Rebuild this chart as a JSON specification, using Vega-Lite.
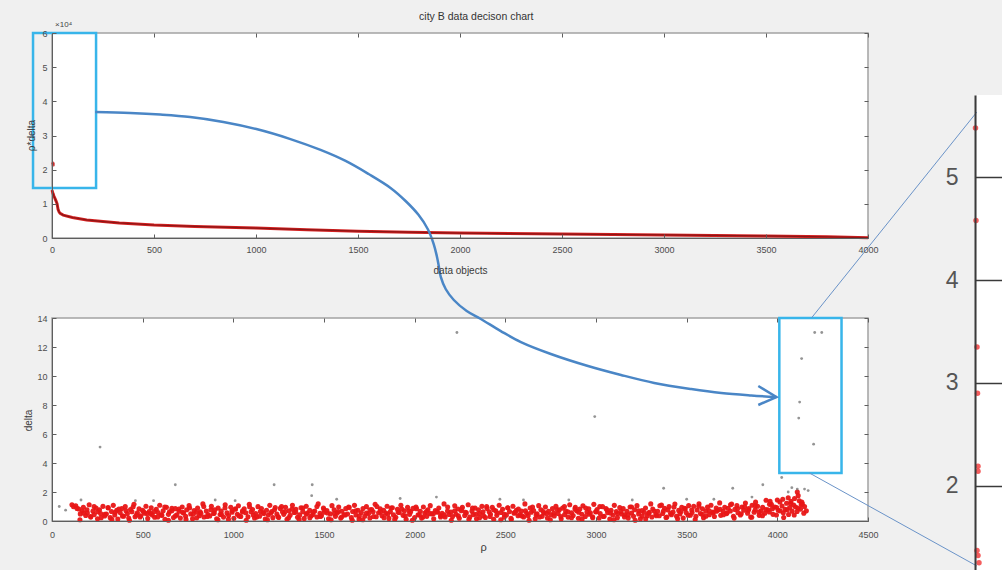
{
"$schema":"https://vega.github.io/schema/vega-lite/v6.json",
"width":1002,"height":570,"autosize":{"type":"none"},"padding":0,
"background":"#f0f0f0",
"config":{"view":{"stroke":null},
 "axis":{"labelFont":"Liberation Sans","labelFontSize":9,"labelColor":"#4d4d4d","titleFont":"Liberation Sans","titleFontSize":10,"titleColor":"#3a3a3a","titleFontWeight":"normal","domainColor":"#5e5e5e","tickColor":"#5e5e5e","grid":false,"labelFlush":false,"labelOverlap":false,"format":"d"}},
"resolve":{"scale":{"x":"independent","y":"independent"},"axis":{"x":"independent","y":"independent"}},
"datasets":{
"curve":[{"x":0,"v":14000},{"x":5,"v":13000},{"x":10,"v":12200},{"x":15,"v":11500},{"x":20,"v":10800},{"x":25,"v":10000},{"x":30,"v":8300},{"x":35,"v":7600},{"x":40,"v":7200},{"x":55,"v":6700},{"x":100,"v":6000},{"x":170,"v":5300},{"x":250,"v":4800},{"x":330,"v":4400},{"x":500,"v":3800},{"x":700,"v":3400},{"x":1000,"v":2900},{"x":1250,"v":2450},{"x":1500,"v":2000},{"x":1750,"v":1700},{"x":2000,"v":1450},{"x":2500,"v":1150},{"x":3000,"v":900},{"x":3500,"v":600},{"x":3800,"v":350},{"x":4000,"v":100}],
"tophigh":[{"x":5,"v":21900},{"x":6,"v":21400}],
"band":[
{"p":110,"d":1.12},{"p":119,"d":0.98},{"p":131,"d":1.05},{"p":138,"d":0.87},{"p":148,"d":0.83},{"p":156,"d":0.49},{"p":167,"d":0.71},{"p":173,"d":0.95},{"p":186,"d":0.38},{"p":195,"d":0.56},{"p":205,"d":1.12},{"p":214,"d":0.27},{"p":226,"d":0.68},{"p":233,"d":0.44},{"p":243,"d":0.89},{"p":251,"d":0.15},{"p":262,"d":0.77},{"p":268,"d":0.52},{"p":281,"d":1.01},{"p":290,"d":0.35},
{"p":300,"d":0.48},{"p":309,"d":0.92},{"p":321,"d":0.23},{"p":328,"d":0.66},{"p":338,"d":1.08},{"p":346,"d":0.41},{"p":357,"d":0.74},{"p":363,"d":0.13},{"p":376,"d":0.58},{"p":385,"d":0.86},{"p":395,"d":0.33},{"p":404,"d":0.99},{"p":416,"d":0.51},{"p":423,"d":0.21},{"p":433,"d":0.79},{"p":441,"d":0.64},{"p":452,"d":1.15},{"p":458,"d":0.29},{"p":471,"d":0.57},{"p":480,"d":0.84},
{"p":490,"d":0.36},{"p":499,"d":0.73},{"p":511,"d":0.54},{"p":518,"d":1.02},{"p":528,"d":0.18},{"p":536,"d":0.65},{"p":547,"d":0.91},{"p":553,"d":0.42},{"p":566,"d":0.26},{"p":575,"d":0.81},{"p":585,"d":0.59},{"p":594,"d":1.09},{"p":606,"d":0.39},{"p":613,"d":0.7},{"p":623,"d":0.12},{"p":631,"d":0.94},{"p":642,"d":0.46},{"p":648,"d":0.63},{"p":661,"d":0.87},{"p":670,"d":0.24},
{"p":680,"d":0.85},{"p":689,"d":0.43},{"p":701,"d":0.67},{"p":708,"d":0.2},{"p":718,"d":0.97},{"p":726,"d":0.55},{"p":737,"d":0.32},{"p":743,"d":0.78},{"p":756,"d":1.06},{"p":765,"d":0.49},{"p":775,"d":0.16},{"p":784,"d":0.72},{"p":796,"d":0.6},{"p":803,"d":0.9},{"p":813,"d":0.37},{"p":821,"d":0.53},{"p":832,"d":1.18},{"p":838,"d":0.28},{"p":851,"d":0.69},{"p":860,"d":0.45},
{"p":870,"d":0.35},{"p":879,"d":1.01},{"p":891,"d":0.52},{"p":898,"d":0.77},{"p":908,"d":0.15},{"p":916,"d":0.89},{"p":927,"d":0.44},{"p":933,"d":0.68},{"p":946,"d":0.27},{"p":955,"d":1.12},{"p":965,"d":0.56},{"p":974,"d":0.38},{"p":986,"d":0.95},{"p":993,"d":0.71},{"p":1003,"d":0.19},{"p":1011,"d":0.83},{"p":1022,"d":0.47},{"p":1028,"d":1.05},{"p":1041,"d":0.31},{"p":1050,"d":0.62},
{"p":1060,"d":0.84},{"p":1069,"d":0.57},{"p":1081,"d":0.29},{"p":1088,"d":1.15},{"p":1098,"d":0.64},{"p":1106,"d":0.79},{"p":1117,"d":0.21},{"p":1123,"d":0.51},{"p":1136,"d":0.99},{"p":1145,"d":0.33},{"p":1155,"d":0.86},{"p":1164,"d":0.58},{"p":1176,"d":0.13},{"p":1183,"d":0.74},{"p":1193,"d":0.41},{"p":1201,"d":1.08},{"p":1212,"d":0.66},{"p":1218,"d":0.23},{"p":1231,"d":0.92},{"p":1240,"d":0.48},
{"p":1250,"d":0.24},{"p":1259,"d":0.87},{"p":1271,"d":0.63},{"p":1278,"d":0.46},{"p":1288,"d":0.94},{"p":1296,"d":0.12},{"p":1307,"d":0.7},{"p":1313,"d":0.39},{"p":1326,"d":1.09},{"p":1335,"d":0.59},{"p":1345,"d":0.81},{"p":1354,"d":0.26},{"p":1366,"d":0.42},{"p":1373,"d":0.91},{"p":1383,"d":0.65},{"p":1391,"d":0.18},{"p":1402,"d":1.02},{"p":1408,"d":0.54},{"p":1421,"d":0.73},{"p":1430,"d":0.36},
{"p":1440,"d":0.45},{"p":1449,"d":0.69},{"p":1461,"d":0.28},{"p":1468,"d":1.18},{"p":1478,"d":0.53},{"p":1486,"d":0.37},{"p":1497,"d":0.9},{"p":1503,"d":0.6},{"p":1516,"d":0.72},{"p":1525,"d":0.16},{"p":1535,"d":0.49},{"p":1544,"d":1.06},{"p":1556,"d":0.78},{"p":1563,"d":0.32},{"p":1573,"d":0.55},{"p":1581,"d":0.97},{"p":1592,"d":0.2},{"p":1598,"d":0.67},{"p":1611,"d":0.43},{"p":1620,"d":0.85},
{"p":1630,"d":0.48},{"p":1639,"d":0.92},{"p":1651,"d":0.23},{"p":1658,"d":0.66},{"p":1668,"d":1.08},{"p":1676,"d":0.41},{"p":1687,"d":0.74},{"p":1693,"d":0.13},{"p":1706,"d":0.58},{"p":1715,"d":0.86},{"p":1725,"d":0.33},{"p":1734,"d":0.99},{"p":1746,"d":0.51},{"p":1753,"d":0.21},{"p":1763,"d":0.79},{"p":1771,"d":0.64},{"p":1782,"d":1.15},{"p":1788,"d":0.29},{"p":1801,"d":0.57},{"p":1810,"d":0.84},
{"p":1820,"d":0.36},{"p":1829,"d":0.73},{"p":1841,"d":0.54},{"p":1848,"d":1.02},{"p":1858,"d":0.18},{"p":1866,"d":0.65},{"p":1877,"d":0.91},{"p":1883,"d":0.42},{"p":1896,"d":0.26},{"p":1905,"d":0.81},{"p":1915,"d":0.59},{"p":1924,"d":1.09},{"p":1936,"d":0.39},{"p":1943,"d":0.7},{"p":1953,"d":0.12},{"p":1961,"d":0.94},{"p":1972,"d":0.46},{"p":1978,"d":0.63},{"p":1991,"d":0.87},{"p":2000,"d":0.24},
{"p":2010,"d":0.85},{"p":2019,"d":0.43},{"p":2031,"d":0.67},{"p":2038,"d":0.2},{"p":2048,"d":0.97},{"p":2056,"d":0.55},{"p":2067,"d":0.32},{"p":2073,"d":0.78},{"p":2086,"d":1.06},{"p":2095,"d":0.49},{"p":2105,"d":0.16},{"p":2114,"d":0.72},{"p":2126,"d":0.6},{"p":2133,"d":0.9},{"p":2143,"d":0.37},{"p":2151,"d":0.53},{"p":2162,"d":1.18},{"p":2168,"d":0.28},{"p":2181,"d":0.69},{"p":2190,"d":0.45},
{"p":2200,"d":0.62},{"p":2209,"d":0.31},{"p":2221,"d":1.05},{"p":2228,"d":0.47},{"p":2238,"d":0.83},{"p":2246,"d":0.19},{"p":2257,"d":0.71},{"p":2263,"d":0.95},{"p":2276,"d":0.38},{"p":2285,"d":0.56},{"p":2295,"d":1.12},{"p":2304,"d":0.27},{"p":2316,"d":0.68},{"p":2323,"d":0.44},{"p":2333,"d":0.89},{"p":2341,"d":0.15},{"p":2352,"d":0.77},{"p":2358,"d":0.52},{"p":2371,"d":1.01},{"p":2380,"d":0.35},
{"p":2390,"d":0.24},{"p":2399,"d":0.87},{"p":2411,"d":0.63},{"p":2418,"d":0.46},{"p":2428,"d":0.94},{"p":2436,"d":0.12},{"p":2447,"d":0.7},{"p":2453,"d":0.39},{"p":2466,"d":1.09},{"p":2475,"d":0.59},{"p":2485,"d":0.81},{"p":2494,"d":0.26},{"p":2506,"d":0.42},{"p":2513,"d":0.91},{"p":2523,"d":0.65},{"p":2531,"d":0.18},{"p":2542,"d":1.02},{"p":2548,"d":0.54},{"p":2561,"d":0.73},{"p":2570,"d":0.36},
{"p":2580,"d":0.45},{"p":2589,"d":0.69},{"p":2601,"d":0.28},{"p":2608,"d":1.18},{"p":2618,"d":0.53},{"p":2626,"d":0.37},{"p":2637,"d":0.9},{"p":2643,"d":0.6},{"p":2656,"d":0.72},{"p":2665,"d":0.16},{"p":2675,"d":0.49},{"p":2684,"d":1.06},{"p":2696,"d":0.78},{"p":2703,"d":0.32},{"p":2713,"d":0.55},{"p":2721,"d":0.97},{"p":2732,"d":0.2},{"p":2738,"d":0.67},{"p":2751,"d":0.43},{"p":2760,"d":0.85},
{"p":2770,"d":0.35},{"p":2779,"d":1.01},{"p":2791,"d":0.52},{"p":2798,"d":0.77},{"p":2808,"d":0.15},{"p":2816,"d":0.89},{"p":2827,"d":0.44},{"p":2833,"d":0.68},{"p":2846,"d":0.27},{"p":2855,"d":1.12},{"p":2865,"d":0.56},{"p":2874,"d":0.38},{"p":2886,"d":0.95},{"p":2893,"d":0.71},{"p":2903,"d":0.19},{"p":2911,"d":0.83},{"p":2922,"d":0.47},{"p":2928,"d":1.05},{"p":2941,"d":0.31},{"p":2950,"d":0.62},
{"p":2960,"d":0.84},{"p":2969,"d":0.57},{"p":2981,"d":0.29},{"p":2988,"d":1.15},{"p":2998,"d":0.64},{"p":3006,"d":0.79},{"p":3017,"d":0.21},{"p":3023,"d":0.51},{"p":3036,"d":0.99},{"p":3045,"d":0.33},{"p":3055,"d":0.86},{"p":3064,"d":0.58},{"p":3076,"d":0.13},{"p":3083,"d":0.74},{"p":3093,"d":0.41},{"p":3101,"d":1.08},{"p":3112,"d":0.66},{"p":3118,"d":0.23},{"p":3131,"d":0.92},{"p":3140,"d":0.48},
{"p":3150,"d":0.85},{"p":3159,"d":0.43},{"p":3171,"d":0.67},{"p":3178,"d":0.2},{"p":3188,"d":0.97},{"p":3196,"d":0.55},{"p":3207,"d":0.32},{"p":3213,"d":0.78},{"p":3226,"d":1.06},{"p":3235,"d":0.49},{"p":3245,"d":0.16},{"p":3254,"d":0.72},{"p":3266,"d":0.6},{"p":3273,"d":0.9},{"p":3283,"d":0.37},{"p":3291,"d":0.53},{"p":3302,"d":1.18},{"p":3308,"d":0.28},{"p":3321,"d":0.69},{"p":3330,"d":0.45},
{"p":3340,"d":0.67},{"p":3349,"d":0.36},{"p":3361,"d":1.1},{"p":3368,"d":0.52},{"p":3378,"d":0.88},{"p":3386,"d":0.24},{"p":3397,"d":0.76},{"p":3403,"d":1.0},{"p":3416,"d":0.43},{"p":3425,"d":0.61},{"p":3435,"d":1.17},{"p":3444,"d":0.32},{"p":3456,"d":0.73},{"p":3463,"d":0.49},{"p":3473,"d":0.94},{"p":3481,"d":0.2},{"p":3492,"d":0.82},{"p":3498,"d":0.57},{"p":3511,"d":1.06},{"p":3520,"d":0.4},
{"p":3530,"d":0.58},{"p":3539,"d":1.02},{"p":3551,"d":0.33},{"p":3558,"d":0.76},{"p":3568,"d":1.18},{"p":3576,"d":0.51},{"p":3587,"d":0.84},{"p":3593,"d":0.23},{"p":3606,"d":0.68},{"p":3615,"d":0.96},{"p":3625,"d":0.43},{"p":3634,"d":1.09},{"p":3646,"d":0.61},{"p":3653,"d":0.31},{"p":3663,"d":0.89},{"p":3671,"d":0.74},{"p":3682,"d":1.25},{"p":3688,"d":0.39},{"p":3701,"d":0.67},{"p":3710,"d":0.94},
{"p":3720,"d":0.51},{"p":3729,"d":0.88},{"p":3741,"d":0.69},{"p":3748,"d":1.17},{"p":3758,"d":0.33},{"p":3766,"d":0.8},{"p":3777,"d":1.06},{"p":3783,"d":0.57},{"p":3796,"d":0.41},{"p":3805,"d":0.96},{"p":3815,"d":0.74},{"p":3824,"d":1.24},{"p":3836,"d":0.54},{"p":3843,"d":0.85},{"p":3853,"d":0.27},{"p":3861,"d":1.09},{"p":3872,"d":0.61},{"p":3878,"d":0.78},{"p":3891,"d":1.02},{"p":3900,"d":0.39},
{"p":3910,"d":0.7},{"p":3919,"d":0.94},{"p":3931,"d":0.53},{"p":3938,"d":1.43},{"p":3948,"d":0.78},{"p":3956,"d":0.62},{"p":3967,"d":1.15},{"p":3973,"d":0.85},{"p":3986,"d":0.97},{"p":3995,"d":0.41},{"p":4005,"d":0.74},{"p":4014,"d":1.31},{"p":4026,"d":1.03},{"p":4033,"d":0.57},{"p":4043,"d":0.8},{"p":4051,"d":1.22},{"p":4062,"d":0.45},{"p":4068,"d":0.92},{"p":4081,"d":0.68},{"p":4090,"d":1.1},
{"p":4100,"d":0.97},{"p":4109,"d":0.66},{"p":4121,"d":1.4},{"p":4128,"d":0.82},{"p":4138,"d":1.18},{"p":4146,"d":0.54},
{"p":4030,"d":1.5},{"p":4060,"d":1.6},{"p":4075,"d":1.35},{"p":4095,"d":1.55},{"p":4115,"d":1.75},{"p":4135,"d":1.3},{"p":3960,"d":1.35},{"p":3880,"d":1.3},{"p":4000,"d":1.45},{"p":4150,"d":1.0},{"p":4160,"d":0.7},{"p":4110,"d":2.0},
{"p":154,"d":0.09},{"p":174,"d":0.55},{"p":193,"d":0.78},{"p":213,"d":0.31},{"p":232,"d":1.0},{"p":252,"d":0.64},{"p":271,"d":0.22},{"p":291,"d":0.47},{"p":310,"d":0.9},{"p":330,"d":0.11},{"p":349,"d":0.6},{"p":369,"d":0.83},{"p":388,"d":0.35},{"p":408,"d":0.71},{"p":427,"d":0.05},{"p":447,"d":0.97},{"p":466,"d":0.42},{"p":486,"d":0.28},{"p":505,"d":0.66},{"p":525,"d":0.52},
{"p":544,"d":0.52},{"p":564,"d":0.66},{"p":583,"d":0.28},{"p":603,"d":0.42},{"p":622,"d":0.97},{"p":642,"d":0.05},{"p":661,"d":0.71},{"p":681,"d":0.35},{"p":700,"d":0.83},{"p":720,"d":0.6},{"p":739,"d":0.11},{"p":759,"d":0.9},{"p":778,"d":0.47},{"p":798,"d":0.22},{"p":817,"d":0.64},{"p":837,"d":1.0},{"p":856,"d":0.31},{"p":876,"d":0.78},{"p":895,"d":0.55},{"p":915,"d":0.09},
{"p":934,"d":0.47},{"p":954,"d":0.9},{"p":973,"d":0.11},{"p":993,"d":0.6},{"p":1012,"d":0.83},{"p":1032,"d":0.35},{"p":1051,"d":0.71},{"p":1071,"d":0.05},{"p":1090,"d":0.97},{"p":1110,"d":0.42},{"p":1129,"d":0.28},{"p":1149,"d":0.66},{"p":1168,"d":0.52},{"p":1188,"d":0.09},{"p":1207,"d":0.55},{"p":1227,"d":0.78},{"p":1246,"d":0.31},{"p":1266,"d":1.0},{"p":1285,"d":0.64},{"p":1305,"d":0.22},
{"p":1324,"d":0.83},{"p":1344,"d":0.6},{"p":1363,"d":0.11},{"p":1383,"d":0.9},{"p":1402,"d":0.47},{"p":1422,"d":0.22},{"p":1441,"d":0.64},{"p":1461,"d":1.0},{"p":1480,"d":0.31},{"p":1500,"d":0.78},{"p":1519,"d":0.55},{"p":1539,"d":0.09},{"p":1558,"d":0.52},{"p":1578,"d":0.66},{"p":1597,"d":0.28},{"p":1617,"d":0.42},{"p":1636,"d":0.97},{"p":1656,"d":0.05},{"p":1675,"d":0.71},{"p":1695,"d":0.35},
{"p":1714,"d":0.09},{"p":1734,"d":0.55},{"p":1753,"d":0.78},{"p":1773,"d":0.31},{"p":1792,"d":1.0},{"p":1812,"d":0.64},{"p":1831,"d":0.22},{"p":1851,"d":0.47},{"p":1870,"d":0.9},{"p":1890,"d":0.11},{"p":1909,"d":0.6},{"p":1929,"d":0.83},{"p":1948,"d":0.35},{"p":1968,"d":0.71},{"p":1987,"d":0.05},{"p":2007,"d":0.97},{"p":2026,"d":0.42},{"p":2046,"d":0.28},{"p":2065,"d":0.66},{"p":2085,"d":0.52},
{"p":2104,"d":0.52},{"p":2124,"d":0.66},{"p":2143,"d":0.28},{"p":2163,"d":0.42},{"p":2182,"d":0.97},{"p":2202,"d":0.05},{"p":2221,"d":0.71},{"p":2241,"d":0.35},{"p":2260,"d":0.83},{"p":2280,"d":0.6},{"p":2299,"d":0.11},{"p":2319,"d":0.9},{"p":2338,"d":0.47},{"p":2358,"d":0.22},{"p":2377,"d":0.64},{"p":2397,"d":1.0},{"p":2416,"d":0.31},{"p":2436,"d":0.78},{"p":2455,"d":0.55},{"p":2475,"d":0.09},
{"p":2494,"d":0.47},{"p":2514,"d":0.9},{"p":2533,"d":0.11},{"p":2553,"d":0.6},{"p":2572,"d":0.83},{"p":2592,"d":0.35},{"p":2611,"d":0.71},{"p":2631,"d":0.05},{"p":2650,"d":0.97},{"p":2670,"d":0.42},{"p":2689,"d":0.28},{"p":2709,"d":0.66},{"p":2728,"d":0.52},{"p":2748,"d":0.09},{"p":2767,"d":0.55},{"p":2787,"d":0.78},{"p":2806,"d":0.31},{"p":2826,"d":1.0},{"p":2845,"d":0.64},{"p":2865,"d":0.22},
{"p":2884,"d":0.83},{"p":2904,"d":0.6},{"p":2923,"d":0.11},{"p":2943,"d":0.9},{"p":2962,"d":0.47},{"p":2982,"d":0.22},{"p":3001,"d":0.64},{"p":3021,"d":1.0},{"p":3040,"d":0.31},{"p":3060,"d":0.78},{"p":3079,"d":0.55},{"p":3099,"d":0.09},{"p":3118,"d":0.52},{"p":3138,"d":0.66},{"p":3157,"d":0.28},{"p":3177,"d":0.42},{"p":3196,"d":0.97},{"p":3216,"d":0.05},{"p":3235,"d":0.71},{"p":3255,"d":0.35},
{"p":3274,"d":0.14},{"p":3294,"d":0.6},{"p":3313,"d":0.83},{"p":3333,"d":0.36},{"p":3352,"d":1.05},{"p":3372,"d":0.69},{"p":3391,"d":0.27},{"p":3411,"d":0.52},{"p":3430,"d":0.95},{"p":3450,"d":0.16},{"p":3469,"d":0.65},{"p":3489,"d":0.88},{"p":3508,"d":0.4},{"p":3528,"d":0.76},{"p":3547,"d":0.1},{"p":3567,"d":1.02},{"p":3586,"d":0.47},{"p":3606,"d":0.33},{"p":3625,"d":0.71},{"p":3645,"d":0.57},
{"p":3664,"d":0.67},{"p":3684,"d":0.81},{"p":3703,"d":0.43},{"p":3723,"d":0.57},{"p":3742,"d":1.12},{"p":3762,"d":0.2},{"p":3781,"d":0.86},{"p":3801,"d":0.5},{"p":3820,"d":0.98},{"p":3840,"d":0.75},{"p":3859,"d":0.26},{"p":3879,"d":1.05},{"p":3898,"d":0.62},{"p":3918,"d":0.37},{"p":3937,"d":0.79},{"p":3957,"d":1.15},{"p":3976,"d":0.46},{"p":3996,"d":0.93},{"p":4015,"d":0.7},{"p":4035,"d":0.24},
{"p":4054,"d":0.77},{"p":4074,"d":1.2},{"p":4093,"d":0.41},{"p":4113,"d":0.9},{"p":4132,"d":1.13}
],
"outl":[{"p":40,"d":1.0},{"p":75,"d":0.75},{"p":265,"d":5.1},{"p":680,"d":2.5},{"p":1225,"d":2.5},{"p":1435,"d":2.5},{"p":1432,"d":1.75},{"p":2233,"d":13.0},{"p":2993,"d":7.2},{"p":4206,"d":13.0},{"p":4245,"d":13.0},{"p":4134,"d":11.2},{"p":4123,"d":8.2},{"p":4118,"d":7.1},{"p":4200,"d":5.3},{"p":3373,"d":2.26},{"p":3754,"d":2.26},{"p":3920,"d":2.5},{"p":4024,"d":3.0},{"p":160,"d":1.45},{"p":460,"d":1.4},{"p":560,"d":1.4},{"p":900,"d":1.45},{"p":1010,"d":1.4},{"p":1570,"d":1.5},{"p":1920,"d":1.55},{"p":2120,"d":1.65},{"p":2470,"d":1.5},{"p":2600,"d":1.45},{"p":2850,"d":1.45},{"p":3200,"d":1.45},{"p":3500,"d":1.5},{"p":3650,"d":1.5},{"p":3860,"d":1.65},{"p":4080,"d":2.3},{"p":4110,"d":2.2},{"p":4150,"d":2.2},{"p":4170,"d":2.1},{"p":4060,"d":2.0}],
"arrow":[{"i":0,"p":238,"d":28.21},{"i":1,"p":431,"d":28.14},{"i":2,"p":597,"d":28.03},{"i":3,"p":762,"d":27.86},{"i":4,"p":945,"d":27.52},{"i":5,"p":1127,"d":27.03},{"i":6,"p":1315,"d":26.34},{"i":7,"p":1481,"d":25.59},{"i":8,"p":1619,"d":24.83},{"i":9,"p":1746,"d":23.93},{"i":10,"p":1867,"d":22.97},{"i":11,"p":1950,"d":22.07},{"i":12,"p":2022,"d":21.1},{"i":13,"p":2072,"d":20.14},{"i":14,"p":2105,"d":19.1},{"i":15,"p":2122,"d":18.28},{"i":16,"p":2133,"d":17.59},{"i":17,"p":2144,"d":16.83},{"i":18,"p":2171,"d":16.0},{"i":19,"p":2216,"d":15.24},{"i":20,"p":2287,"d":14.48},{"i":21,"p":2365,"d":13.93},{"i":22,"p":2475,"d":13.1},{"i":23,"p":2586,"d":12.34},{"i":24,"p":2751,"d":11.52},{"i":25,"p":2956,"d":10.69},{"i":26,"p":3138,"d":10.07},{"i":27,"p":3321,"d":9.52},{"i":28,"p":3525,"d":9.1},{"i":29,"p":3691,"d":8.83},{"i":30,"p":3856,"d":8.66},{"i":31,"p":3995,"d":8.55}],
"head":[{"i":0,"p":3895,"d":9.31},{"i":1,"p":3995,"d":8.55},{"i":2,"p":3895,"d":8.0}],
"links":[{"g":"a","i":0,"p":4188,"d":14.0},{"g":"a","i":1,"p":5100,"d":28.2},{"g":"b","i":0,"p":4177,"d":3.31},{"g":"b","i":1,"p":5100,"d":-3.1}],
"inset":[{"x":0.005,"y":5.48},{"x":0.01,"y":4.58},{"x":0.02,"y":3.35},{"x":0.025,"y":2.9},{"x":0.03,"y":2.19},{"x":0.03,"y":2.14},{"x":0.02,"y":1.37},{"x":0.03,"y":1.32},{"x":0.04,"y":1.25}]
},
"layer":[
{"data":{"values":[{"x":0,"x2":4000,"y":0,"y2":60000}]},
 "mark":{"type":"rect","fill":"white","stroke":"#a3a3a3","strokeWidth":1.5},
 "encoding":{
  "x":{"field":"x","type":"quantitative","scale":{"domain":[0,4000],"range":[52,868],"nice":false,"zero":false},"axis":{"orient":"top","offset":-33,"values":[0,500,1000,1500,2000,2500,3000,3500,4000],"labels":false,"domain":false,"tickSize":-4,"title":null,"zindex":2}},
  "x2":{"field":"x2"},
  "y":{"field":"y","type":"quantitative","scale":{"domain":[0,60000],"range":[238,33],"nice":false,"zero":false},"axis":{"orient":"right","offset":-134,"values":[0,10000,20000,30000,40000,50000,60000],"labels":false,"domain":false,"tickSize":-4,"title":null,"zindex":2}},
  "y2":{"field":"y2"}}},
{"data":{"name":"curve"},
 "mark":{"type":"line","color":"#d42020","strokeWidth":3},
 "encoding":{
  "x":{"field":"x","type":"quantitative","scale":{"domain":[0,4000],"range":[52,868],"nice":false,"zero":false},"axis":{"orient":"bottom","offset":-332,"values":[0,500,1000,1500,2000,2500,3000,3500,4000],"tickSize":-4,"labelPadding":11,"title":"data objects","titleX":460,"titleY":32,"titleBaseline":"middle","titleAlign":"center","zindex":2}},
  "y":{"field":"v","type":"quantitative","scale":{"domain":[0,60000],"range":[238,33],"nice":false,"zero":false},"axis":{"orient":"left","offset":-52,"values":[0,10000,20000,30000,40000,50000,60000],"labelExpr":"datum.value/10000","tickSize":-4,"labelPadding":9,"title":"ρ*delta","titleX":-21,"titleY":135,"titleAngle":-90,"titleBaseline":"middle","titleAlign":"center","zindex":2}}}},
{"data":{"name":"curve"},
 "mark":{"type":"line","color":"#8a1616","strokeWidth":1.2},
 "encoding":{
  "x":{"field":"x","type":"quantitative","scale":{"domain":[0,4000],"range":[52,868],"nice":false,"zero":false},"axis":null},
  "y":{"field":"v","type":"quantitative","scale":{"domain":[0,60000],"range":[238,33],"nice":false,"zero":false},"axis":null}}},
{"data":{"name":"tophigh"},
 "mark":{"type":"point","filled":true,"color":"#c01818","size":10,"opacity":0.8},
 "encoding":{
  "x":{"field":"x","type":"quantitative","scale":{"domain":[0,4000],"range":[52,868],"nice":false,"zero":false},"axis":null},
  "y":{"field":"v","type":"quantitative","scale":{"domain":[0,60000],"range":[238,33],"nice":false,"zero":false},"axis":null}}},
{"data":{"values":[{"x":2080,"y":64680,"t":"city B data decison chart"}]},
 "mark":{"type":"text","font":"Liberation Sans","color":"#333333","baseline":"middle","align":"center","fontSize":10.5},
 "encoding":{
  "x":{"field":"x","type":"quantitative","scale":{"domain":[0,4000],"range":[52,868],"nice":false,"zero":false},"axis":null},
  "y":{"field":"y","type":"quantitative","scale":{"domain":[0,60000],"range":[238,33],"nice":false,"zero":false},"axis":null},
  "text":{"field":"t"}}},
{"data":{"values":[{"x":15,"y":62340,"t":"×10⁴"}]},
 "mark":{"type":"text","font":"Liberation Sans","color":"#444444","baseline":"middle","align":"left","fontSize":8},
 "encoding":{
  "x":{"field":"x","type":"quantitative","scale":{"domain":[0,4000],"range":[52,868],"nice":false,"zero":false},"axis":null},
  "y":{"field":"y","type":"quantitative","scale":{"domain":[0,60000],"range":[238,33],"nice":false,"zero":false},"axis":null},
  "text":{"field":"t"}}},
{"data":{"values":[{"x":-93,"x2":216,"y":14630,"y2":60000}]},
 "mark":{"type":"rect","fill":"white","fillOpacity":0,"stroke":"#38b5ea","strokeWidth":2.5},
 "encoding":{
  "x":{"field":"x","type":"quantitative","scale":{"domain":[0,4000],"range":[52,868],"nice":false,"zero":false},"axis":null},
  "x2":{"field":"x2"},
  "y":{"field":"y","type":"quantitative","scale":{"domain":[0,60000],"range":[238,33],"nice":false,"zero":false},"axis":null},
  "y2":{"field":"y2"}}},
{"data":{"values":[{"x":0,"x2":4500,"y":0,"y2":14}]},
 "mark":{"type":"rect","fill":"white","stroke":"#a3a3a3","strokeWidth":1.5},
 "encoding":{
  "x":{"field":"x","type":"quantitative","scale":{"domain":[0,4500],"range":[52,868],"nice":false,"zero":false},"axis":{"orient":"top","offset":-318,"values":[0,500,1000,1500,2000,2500,3000,3500,4000,4500],"labels":false,"domain":false,"tickSize":-4,"title":null,"zindex":2}},
  "x2":{"field":"x2"},
  "y":{"field":"y","type":"quantitative","scale":{"domain":[0,14],"range":[521,318],"nice":false,"zero":false},"axis":{"orient":"right","offset":-134,"values":[0,2,4,6,8,10,12,14],"labels":false,"domain":false,"tickSize":-4,"title":null,"zindex":2}},
  "y2":{"field":"y2"}}},
{"data":{"name":"band"},
 "mark":{"type":"point","filled":true,"color":"#e81616","size":26,"opacity":0.95},
 "encoding":{
  "x":{"field":"p","type":"quantitative","scale":{"domain":[0,4500],"range":[52,868],"nice":false,"zero":false},"axis":{"orient":"bottom","offset":-49,"values":[0,500,1000,1500,2000,2500,3000,3500,4000,4500],"tickSize":-4,"labelPadding":13,"title":"ρ","titleFontSize":11,"titleX":483,"titleY":26,"titleBaseline":"middle","titleAlign":"center","zindex":2}},
  "y":{"field":"d","type":"quantitative","scale":{"domain":[0,14],"range":[521,318],"nice":false,"zero":false},"axis":{"orient":"left","offset":-52,"values":[0,2,4,6,8,10,12,14],"tickSize":-4,"labelPadding":9,"title":"delta","titleX":-24,"titleY":420,"titleAngle":-90,"titleBaseline":"middle","titleAlign":"center","zindex":2}}}},
{"data":{"name":"outl"},
 "mark":{"type":"point","filled":true,"color":"#666666","size":8},
 "encoding":{
  "x":{"field":"p","type":"quantitative","scale":{"domain":[0,4500],"range":[52,868],"nice":false,"zero":false},"axis":null},
  "y":{"field":"d","type":"quantitative","scale":{"domain":[0,14],"range":[521,318],"nice":false,"zero":false},"axis":null}}},
{"data":{"values":[{"x":4011,"x2":4354,"y":3.31,"y2":14}]},
 "mark":{"type":"rect","fill":"white","fillOpacity":0,"stroke":"#38b5ea","strokeWidth":2.5},
 "encoding":{
  "x":{"field":"x","type":"quantitative","scale":{"domain":[0,4500],"range":[52,868],"nice":false,"zero":false},"axis":null},
  "x2":{"field":"x2"},
  "y":{"field":"y","type":"quantitative","scale":{"domain":[0,14],"range":[521,318],"nice":false,"zero":false},"axis":null},
  "y2":{"field":"y2"}}},
{"data":{"name":"arrow"},
 "mark":{"type":"line","color":"#4a86c6","strokeWidth":2.5,"interpolate":"catmull-rom"},
 "encoding":{
  "x":{"field":"p","type":"quantitative","scale":{"domain":[0,4500],"range":[52,868],"nice":false,"zero":false},"axis":null},
  "y":{"field":"d","type":"quantitative","scale":{"domain":[0,14],"range":[521,318],"nice":false,"zero":false},"axis":null},
  "order":{"field":"i","type":"quantitative"}}},
{"data":{"name":"head"},
 "mark":{"type":"line","color":"#4a86c6","strokeWidth":2.5},
 "encoding":{
  "x":{"field":"p","type":"quantitative","scale":{"domain":[0,4500],"range":[52,868],"nice":false,"zero":false},"axis":null},
  "y":{"field":"d","type":"quantitative","scale":{"domain":[0,14],"range":[521,318],"nice":false,"zero":false},"axis":null},
  "order":{"field":"i","type":"quantitative"}}},
{"data":{"name":"links"},
 "mark":{"type":"line","color":"#6a93c8","strokeWidth":1},
 "encoding":{
  "x":{"field":"p","type":"quantitative","scale":{"domain":[0,4500],"range":[52,868],"nice":false,"zero":false},"axis":null},
  "y":{"field":"d","type":"quantitative","scale":{"domain":[0,14],"range":[521,318],"nice":false,"zero":false},"axis":null},
  "detail":{"field":"g"},
  "order":{"field":"i","type":"quantitative"}}},
{"data":{"values":[{"x":0.02,"x2":1,"y":1.18,"y2":5.8}]},
 "mark":{"type":"rect","fill":"white"},
 "encoding":{
  "x":{"field":"x","type":"quantitative","scale":{"domain":[0,1],"range":[975,1075],"nice":false,"zero":false},"axis":null},
  "x2":{"field":"x2"},
  "y":{"field":"y","type":"quantitative","scale":{"domain":[1.18,5.8],"range":[570,95],"nice":false,"zero":false},"axis":{"orient":"left","offset":-975,"values":[2,3,4,5],"tickSize":-30,"labelPadding":47,"labelFontSize":23,"labelColor":"#555555","domainColor":"#3a3a3a","domainWidth":2,"tickColor":"#3a3a3a","tickWidth":1.5,"title":null,"zindex":2}},
  "y2":{"field":"y2"}}},
{"data":{"name":"inset"},
 "mark":{"type":"point","filled":true,"color":"#f01818","size":30},
 "encoding":{
  "x":{"field":"x","type":"quantitative","scale":{"domain":[0,1],"range":[975,1075],"nice":false,"zero":false},"axis":null},
  "y":{"field":"y","type":"quantitative","scale":{"domain":[1.18,5.8],"range":[570,95],"nice":false,"zero":false},"axis":null}}}
]
}
